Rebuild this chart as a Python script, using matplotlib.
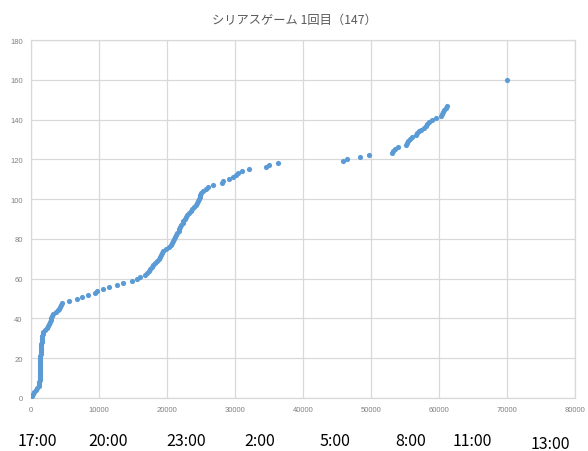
import matplotlib
matplotlib.use("Agg")
import matplotlib.pyplot as plt

plt.rcParams['font.family'] = ['Noto Sans CJK JP', 'DejaVu Sans']

title = "シリアスゲーム 1回目（147）"

elapsed_sec = [
    200, 350, 500, 700, 900, 1200, 1220, 1240, 1250, 1260, 1270, 1280, 1290, 1300,
    1310, 1320, 1330, 1340, 1350, 1360, 1380, 1400, 1420, 1450, 1480, 1510, 1540, 1570,
    1600, 1630, 1660, 1700, 1800, 2000, 2300, 2500, 2600, 2800, 2900, 3000, 3100, 3300,
    3700, 3900, 4100, 4200, 4400, 4500,
    5600, 6700, 7500, 8400, 9400, 9700, 10600, 11500, 12600, 13600, 14800, 15600, 16000,
    16800, 17000, 17300, 17500, 17800, 18000, 18200, 18500, 18800, 19000, 19100, 19300,
    19400, 19900, 20300, 20600, 20800, 20900, 21000, 21200, 21300, 21500, 21700, 21800,
    21900, 22100, 22300, 22400, 22600, 22800, 23000, 23300, 23500, 23700, 23900, 24200,
    24400, 24600, 24700, 24800, 24900, 25000, 25300, 25700, 26000, 26700,
    28100, 28300, 29100, 29700, 30100, 30400, 31000, 32000, 34500, 35000, 36300,
    45900, 46500, 48400, 49700,
    53100, 53300, 53500, 54000, 55100, 55300, 55500, 55700, 56000, 56600, 56800, 57000,
    57300, 57800, 58100, 58300, 58600, 59000, 59500, 60300, 60500, 60600, 60800, 61000,
    61200, 70000,
]
count = list(range(1, 119)) + [119, 120, 121, 122, 123] + list(range(124, 147)) + [147, 160]

x_ticks = [0, 10000, 20000, 30000, 40000, 50000, 60000, 70000, 80000]
y_ticks = [0, 20, 40, 60, 80, 100, 120, 140, 160, 180]
time_labels = ["17:00", "20:00", "23:00", "2:00", "5:00", "8:00", "11:00", "13:00"]
time_label_pos = [37, 108, 186, 260, 335, 411, 472, 550]

n = min(len(elapsed_sec), len(count))
fig = plt.figure(figsize=(5.88, 4.52), dpi=100)
ax = fig.add_axes([31/588, 1-399/452, (575-31)/588, (399-41)/452])
ax.scatter(elapsed_sec[:n], count[:n], s=14, color='#5b9bd5', linewidths=0, zorder=3)
ax.set_xlim(0, 80000)
ax.set_ylim(0, 180)
ax.set_xticks(x_ticks)
ax.set_yticks(y_ticks)
ax.set_xticklabels([str(v) for v in x_ticks], fontsize=5.5, color='#808080', family=['Liberation Sans'])
ax.set_yticklabels([str(v) for v in y_ticks], fontsize=5.5, color='#808080', family=['Liberation Sans'])
ax.tick_params(length=0, pad=6)
ax.grid(True, color='#d9d9d9', linewidth=0.9)
ax.set_axisbelow(True)
for s in ax.spines.values():
    s.set_color('#d9d9d9')
    s.set_linewidth(0.9)

fig.text(0.5, 1-20/452, title, ha='center', va='center', fontsize=8.8, color='#595959')
for lab, px in zip(time_labels, time_label_pos):
    py = 445 if lab == "13:00" else 442
    fig.text(px/588, 1-py/452, lab, ha='center', va='center', fontsize=11.5, color='#000000')

fig.savefig("out.png", dpi=100)
